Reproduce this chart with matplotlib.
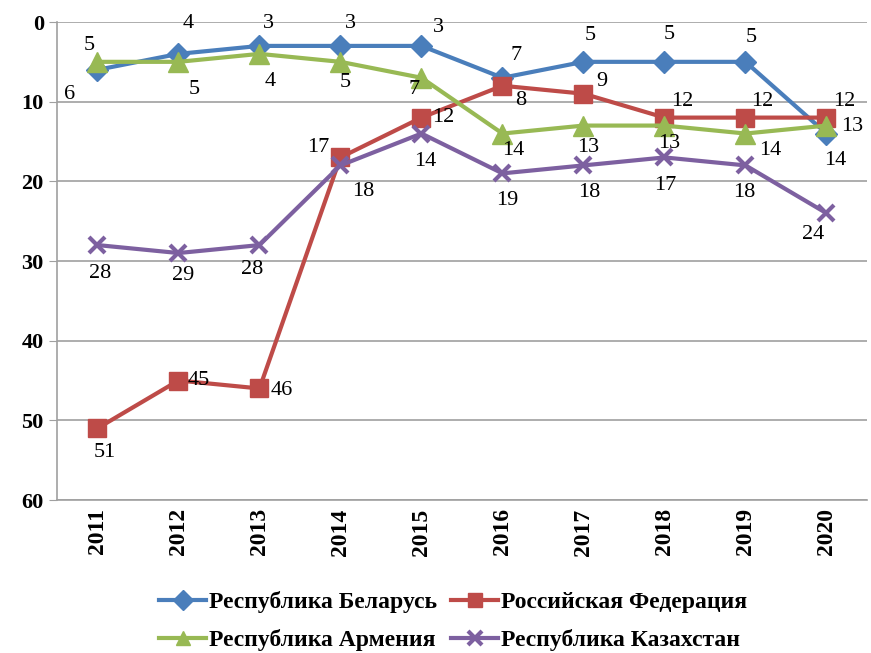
import matplotlib.pyplot as plt

plt.rcParams['font.family'] = ['Liberation Serif', 'DejaVu Serif']

years = ['2011', '2012', '2013', '2014', '2015', '2016', '2017', '2018', '2019', '2020']
belarus = [6, 4, 3, 3, 3, 7, 5, 5, 5, 14]
russia = [51, 45, 46, 17, 12, 8, 9, 12, 12, 12]
armenia = [5, 5, 4, 5, 7, 14, 13, 13, 14, 13]
kazakhstan = [28, 29, 28, 18, 14, 19, 18, 17, 18, 24]

names = ['Республика Беларусь', 'Российская Федерация',
         'Республика Армения', 'Республика Казахстан']

# label offsets in pixels (dx, dy) from each point, dy positive = down
off_bel = [(-28, 25), (10, -30), (9, -22), (10, -22), (17, -18), (14, -22), (7, -26), (5, -27), (6, -24), (9, 27)]
off_rus = [(7, 24), (20, 0), (22, 2), (-22, -10), (22, 0), (18, 15), (18, -12), (18, -16), (17, -16), (18, -16)]
off_arm = [(-8, -16), (16, 28), (11, 28), (5, 21), (-7, 12), (11, 17), (5, 22), (5, 18), (25, 17), (26, 1)]
off_kaz = [(3, 28), (5, 22), (-7, 24), (23, 26), (4, 28), (5, 27), (6, 27), (1, 28), (-1, 27), (-13, 21)]

fig = plt.figure(figsize=(8.71, 6.53), dpi=100)
ax = fig.add_axes([0.0654, 0.2343, 0.930, 0.7320])

x = list(range(len(years)))
series = [
    (belarus, '#4A7EBB', 'D', 11, off_bel),
    (russia, '#BE4B48', 's', 13, off_rus),
    (armenia, '#98B954', '^', 14, off_arm),
    (kazakhstan, '#7D60A0', 'x', 12, off_kaz),
]
lines = []
for (vals, col, mk, ms, offs), name in zip(series, names):
    ln, = ax.plot(x, vals, color=col, lw=3, marker=mk, markersize=ms,
                  markeredgewidth=3 if mk == 'x' else 1, markeredgecolor=col,
                  label=name)
    lines.append(ln)
    for xi, v, (dx, dy) in zip(x, vals, offs):
        ax.annotate(str(v), (xi, v), xytext=(dx, -dy), textcoords='offset pixels',
                    ha='center', va='center', fontsize=16)

ax.set_ylim(60, 0)
ax.set_xlim(-0.5, len(years) - 0.5)
ax.set_yticks(range(0, 61, 10))
ax.set_xticks(x)
ax.set_xticklabels(years, rotation=90, fontweight='bold', fontsize=17)
for t in ax.get_yticklabels():
    t.set_fontweight('bold')
    t.set_fontsize(16)
ax.yaxis.grid(True, color='#A0A0A0', lw=1.2)
ax.set_axisbelow(True)
for s in ['top', 'right']:
    ax.spines[s].set_visible(False)
for s in ['left', 'bottom']:
    ax.spines[s].set_color('#A0A0A0')
    ax.spines[s].set_linewidth(1.2)
ax.tick_params(axis='y', length=6, color='#A0A0A0')
ax.tick_params(axis='x', length=0, pad=6)

# column-first fill: order so rows read Belarus/Russia, Armenia/Kazakhstan
order = [0, 2, 1, 3]
leg = fig.legend([lines[i] for i in order], [names[i] for i in order],
                 loc='lower center', bbox_to_anchor=(0.52, -0.03), ncol=2,
                 frameon=False, prop={'weight': 'bold', 'size': 17},
                 handlelength=2.0, handletextpad=0.1, columnspacing=0.6,
                 labelspacing=0.7)
for h in leg.legend_handles:
    h.set_markersize(10)

fig.savefig('out.png', dpi=100)
